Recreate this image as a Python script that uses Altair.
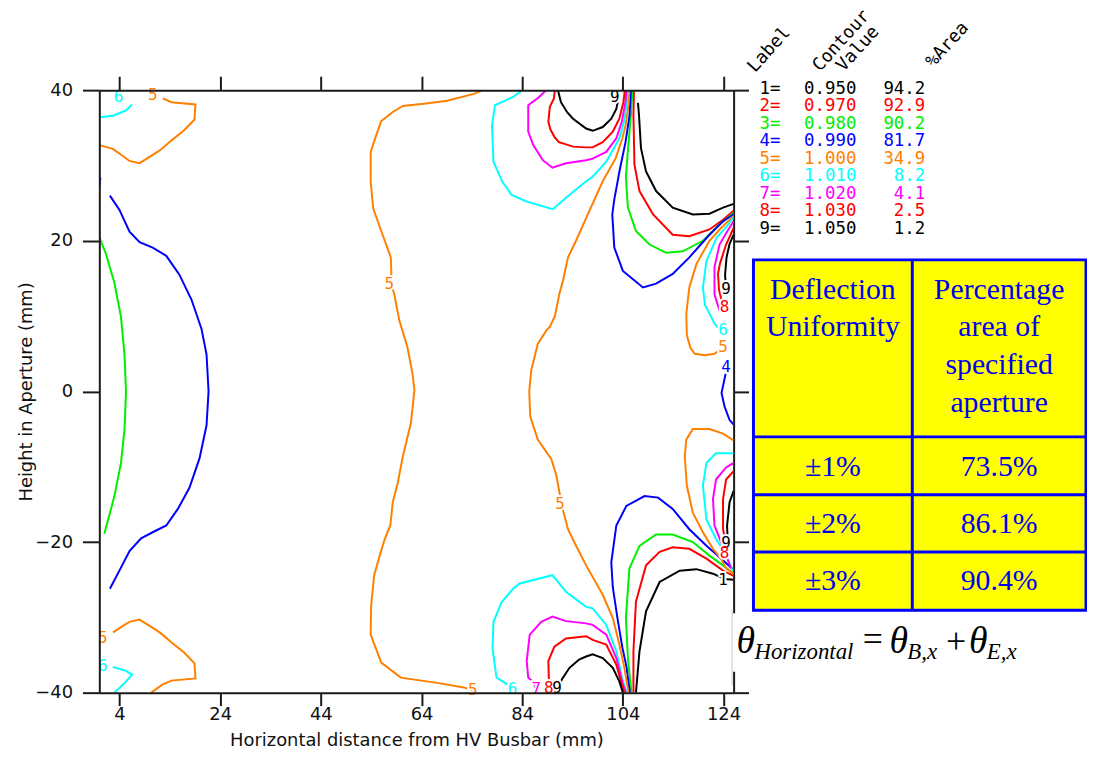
import altair as alt
import pandas as pd

# ---------------- axes ----------------
X_DOMAIN = [0, 126]
Y_DOMAIN = [-40, 40]
X_TICKS = [4, 24, 44, 64, 84, 104, 124]
Y_TICKS = [-40, -20, 0, 20, 40]
X_TITLE = "Horizontal distance from HV Busbar (mm)"
Y_TITLE = "Height in Aperture (mm)"

# ---------------- contour levels ----------------
LEVEL_IDS = [1, 2, 3, 4, 5, 6, 7, 8, 9]
LEVEL_VALUES = ["0.950", "0.970", "0.980", "0.990", "1.000", "1.010", "1.020", "1.030", "1.050"]
LEVEL_AREA = ["94.2", "92.9", "90.2", "81.7", "34.9", "8.2", "4.1", "2.5", "1.2"]
LEVEL_COLORS = ["#000000", "#ff0000", "#00ee00", "#0000ff", "#ff8000",
                "#00ffff", "#ff00ff", "#ff0000", "#000000"]

# ---------------- contour lines (x mm, y mm) ----------------
L1_UPPER = [(107.0, 38.3), (107.2, 36.7), (107.6, 32.3), (108.6, 29.2), (110.6, 26.6), (113.9, 24.4),
            (117.9, 23.5), (121.2, 23.6), (123.9, 24.4), (126.0, 24.9)]
L1_LOWER = [(106.6, -40.0), (107.3, -34.5), (108.6, -29.2), (111.3, -25.3), (115.3, -23.8),
            (118.6, -23.6), (121.9, -24.2), (124.2, -24.9), (126.0, -25.0)]

L2_UPPER = [(106.2, 40.0), (106.1, 36.7), (106.3, 30.1), (107.3, 26.6), (110.0, 23.5), (113.9, 20.8),
            (117.2, 20.6), (121.2, 21.5), (123.9, 22.8), (126.0, 24.0)]
L2_LOWER = [(106.1, -40.0), (106.1, -34.5), (106.6, -27.9), (108.6, -23.1), (111.3, -21.3),
            (113.9, -20.7), (117.2, -20.9), (120.6, -22.2), (123.9, -23.8), (126.0, -24.5)]

L3_UPPER = [(105.9, 40.0), (105.6, 36.7), (105.0, 32.0), (104.6, 28.5), (105.0, 24.4), (106.6, 21.3),
            (109.3, 19.5), (112.6, 18.4), (115.9, 18.6), (119.9, 20.0), (123.2, 22.2), (126.0, 23.7)]
L3_LOWER = [(105.7, -40.0), (105.0, -35.4), (104.6, -30.1), (105.3, -23.5), (107.3, -20.5),
            (110.6, -19.0), (113.9, -19.0), (117.9, -20.0), (121.2, -21.8), (123.9, -23.1), (126.0, -24.2)]
L3_LEFT = [(0.0, 20.5), (1.3, 18.3), (3.0, 14.4), (4.3, 9.9), (5.0, 4.9), (5.3, 0.0),
           (5.0, -5.1), (4.3, -9.5), (3.0, -13.9), (1.0, -18.9)]

L4_UPPER = [(105.6, 40.0), (105.3, 36.5), (104.5, 33.0), (103.4, 29.5), (102.3, 25.5), (101.9, 23.5),
            (102.3, 19.1), (104.0, 16.0), (108.0, 13.8), (110.6, 14.3), (113.9, 15.6), (117.2, 17.8),
            (121.2, 20.8), (123.9, 22.6), (126.0, 23.5)]
L4_LOWER = [(105.4, -40.0), (104.7, -36.5), (103.9, -34.0), (102.9, -30.0), (102.0, -26.0),
            (101.7, -22.7), (102.7, -17.8), (104.7, -15.2), (108.3, -13.9), (111.0, -14.1),
            (113.9, -15.6), (117.2, -18.3), (120.6, -20.5), (123.5, -22.2), (126.0, -23.7)]
L4_RIGHT = [(124.5, 2.6), (123.6, -0.2), (124.2, -2.0), (125.2, -3.8), (126.0, -4.4)]
L4_LEFT = [(2.1, 26.0), (4.0, 24.1), (6.0, 21.2), (8.0, 19.8), (10.6, 19.1), (13.3, 18.0),
           (15.9, 15.5), (18.3, 12.2), (20.3, 8.3), (21.3, 4.9), (21.7, 0.0), (21.3, -4.5),
           (19.9, -8.9), (17.9, -12.8), (15.6, -15.6), (13.3, -17.8), (10.6, -18.7), (8.3, -19.5),
           (6.0, -21.2), (4.3, -23.4), (2.1, -26.2)]
L4_DOT = [(0.0, 27.2), (0.2, 28.4)]

L5_TOP_LEFT = [(12.6, 38.9), (14.3, 38.4), (19.1, 38.1), (18.9, 36.1), (16.9, 34.7), (14.3, 33.3),
               (12.0, 32.0), (8.0, 30.3), (6.0, 30.6), (5.0, 31.1), (2.7, 32.2), (0.0, 32.7)]
L5_BOT_LEFT = [(2.7, -32.0), (5.0, -31.0), (6.0, -30.6), (8.0, -30.3), (12.0, -32.0), (14.3, -33.3),
               (16.9, -34.7), (18.9, -36.1), (19.1, -38.1), (14.3, -38.4), (12.6, -38.9), (10.3, -40.0)]
L5_CENTER = [(76.2, 40.0), (74.4, 39.5), (69.1, 38.6), (64.5, 38.2), (60.3, 37.9), (58.3, 37.1),
             (56.0, 35.9), (55.0, 34.0), (53.9, 31.8), (53.9, 27.9), (54.4, 24.3), (56.0, 21.3),
             (57.9, 17.8), (58.0, 16.0), (58.0, 14.2), (58.6, 12.9), (59.6, 9.4), (61.2, 5.9),
             (62.2, 2.4), (62.6, 0.2), (61.9, -4.2), (60.3, -8.6), (59.3, -12.1), (58.3, -14.7),
             (57.8, -17.8), (56.7, -19.6), (55.7, -21.8), (54.6, -24.4), (54.0, -28.4), (53.9, -32.3),
             (56.0, -36.0), (59.9, -38.0), (67.1, -38.7), (72.4, -39.3), (74.2, -39.7)]
L5_RIGHT = [(105.3, 40.0), (105.1, 38.0), (104.6, 35.5), (103.9, 33.6), (102.6, 31.0), (100.0, 27.9),
            (96.7, 23.0), (94.7, 20.0), (93.1, 17.8), (92.1, 14.7), (91.4, 13.0), (90.5, 10.0),
            (89.5, 8.6), (88.8, 8.1), (87.1, 6.3), (85.8, 2.8), (85.4, 0.0), (85.6, -3.3),
            (87.1, -6.4), (89.8, -9.0), (90.8, -11.2), (91.4, -13.4), (92.0, -15.5), (93.1, -18.3),
            (94.7, -20.5), (96.7, -23.1), (100.0, -27.0), (102.0, -30.1), (103.3, -33.6),
            (104.3, -36.7), (105.1, -40.0)]
L5_RIGHT_UP = [(126.0, 23.3), (123.5, 21.7), (121.2, 20.0), (118.6, 16.9), (117.2, 13.8), (116.6, 10.3),
               (116.7, 7.5), (117.4, 5.8), (118.3, 5.0), (120.3, 4.8), (122.2, 5.0), (123.2, 5.5)]
L5_RIGHT_LOW = [(126.0, -6.5), (123.9, -5.6), (121.2, -5.0), (117.9, -5.0), (116.6, -6.4),
                (116.3, -8.6), (116.7, -12.5), (117.9, -16.1), (119.9, -18.7), (121.9, -20.9),
                (123.5, -22.2), (124.5, -23.5), (126.0, -24.2)]

L6_TOP_LEFT = [(0.0, 36.4), (2.7, 36.6), (5.3, 37.3), (6.5, 38.1)]
L6_BOT_LEFT = [(2.7, -36.6), (5.3, -37.1), (6.5, -37.6), (5.2, -38.6), (3.8, -39.5), (3.0, -40.0)]
L6_TOP = [(84.0, 40.0), (82.2, 39.1), (78.6, 38.0), (78.0, 35.3), (78.3, 30.5), (80.0, 27.9),
          (81.9, 26.1), (84.9, 25.2), (90.1, 24.2), (92.7, 25.7), (96.7, 27.9), (98.0, 28.5),
          (100.7, 30.5), (103.3, 33.6), (104.3, 36.0), (104.8, 38.5), (104.95, 40.0)]
L6_BOTTOM = [(81.3, -39.0), (78.9, -38.0), (78.1, -34.1), (78.3, -30.6), (79.9, -28.0), (82.2, -26.2),
             (83.5, -25.5), (90.0, -24.4), (92.7, -26.6), (96.7, -28.6), (98.0, -28.8), (100.7, -31.0),
             (102.7, -34.5), (104.0, -38.5), (104.8, -40.0)]
L6_RIGHT_UP = [(126.0, 23.1), (124.5, 21.8), (122.6, 20.4), (120.6, 17.3), (119.9, 13.8), (120.3, 11.5),
               (121.3, 10.2), (122.2, 9.0), (123.0, 8.4)]
L6_RIGHT_LOW = [(126.0, -8.2), (122.5, -8.2), (120.6, -9.5), (119.9, -12.5), (120.6, -17.0),
                (122.5, -19.6), (124.2, -21.3), (125.2, -22.8), (125.8, -23.8)]

L7_TOP = [(88.8, 40.0), (87.2, 39.0), (85.2, 38.0), (85.2, 34.5), (86.2, 32.7), (88.1, 30.7),
          (90.0, 29.7), (92.7, 30.3), (96.7, 30.7), (98.0, 30.9), (100.7, 31.8), (102.7, 33.6),
          (103.8, 35.8), (104.5, 38.4), (104.7, 40.0)]
L7_BOTTOM = [(87.0, -40.0), (86.2, -38.6), (85.2, -38.0), (84.9, -35.8), (85.5, -32.3), (87.8, -30.6),
             (90.0, -29.9), (92.7, -30.5), (96.7, -30.8), (98.0, -31.0), (100.7, -32.3), (102.7, -35.4),
             (104.0, -38.9), (104.6, -40.0)]
L7_RIGHT_UP = [(126.0, 22.6), (124.5, 21.0), (123.2, 19.5), (122.2, 16.5), (122.2, 12.9), (123.2, 10.7)]
L7_RIGHT_LOW = [(126.0, -9.5), (124.5, -10.1), (122.5, -11.7), (121.9, -14.3), (122.2, -17.8),
                (123.5, -20.0), (124.5, -21.8), (125.5, -23.5)]

L8_TOP = [(90.5, 40.0), (90.3, 38.9), (89.5, 37.8), (89.2, 35.8), (89.6, 34.8), (90.4, 33.8),
          (91.3, 33.1), (92.7, 32.8), (94.1, 32.5), (96.7, 32.4), (98.0, 32.4), (100.0, 33.1),
          (102.0, 34.5), (103.3, 36.2), (104.1, 38.4), (104.4, 40.0)]
L8_BOTTOM = [(89.3, -39.0), (89.3, -38.2), (89.2, -35.8), (90.4, -33.9), (92.7, -32.8), (96.7, -32.5),
             (98.0, -33.0), (100.7, -33.6), (102.7, -36.3), (103.8, -38.9), (104.3, -40.0)]
L8_RIGHT_UP = [(126.0, 21.7), (124.5, 19.5), (123.3, 17.0), (122.9, 15.6), (123.1, 13.5), (123.6, 12.1)]
L8_RIGHT_LOW = [(126.0, -10.6), (124.5, -11.7), (123.9, -14.3), (123.9, -18.3), (124.5, -20.5)]

L9_TOP = [(91.1, 40.0), (91.7, 38.4), (93.0, 37.0), (94.1, 36.2), (96.7, 34.9), (98.0, 34.6),
          (100.0, 35.1), (101.7, 36.2), (102.7, 37.5), (103.0, 38.5)]
L9_BOTTOM = [(91.6, -38.7), (91.9, -38.2), (93.4, -36.7), (95.3, -35.6), (96.7, -35.2), (98.0, -34.9),
             (100.0, -35.4), (102.0, -36.7), (103.3, -38.5), (104.0, -40.0)]
L9_RIGHT_UP = [(126.0, 20.8), (125.2, 19.6), (124.6, 17.8), (124.3, 15.5), (124.4, 14.5)]
L9_RIGHT_LOW = [(126.0, -13.2), (125.2, -14.7), (124.7, -17.8), (124.8, -19.5)]

SEGMENTS = [
    (1, L1_UPPER), (1, L1_LOWER),
    (2, L2_UPPER), (2, L2_LOWER),
    (3, L3_UPPER), (3, L3_LOWER), (3, L3_LEFT),
    (4, L4_UPPER), (4, L4_LOWER), (4, L4_RIGHT), (4, L4_LEFT), (4, L4_DOT),
    (5, L5_TOP_LEFT), (5, L5_BOT_LEFT), (5, L5_CENTER), (5, L5_RIGHT), (5, L5_RIGHT_UP), (5, L5_RIGHT_LOW),
    (6, L6_TOP_LEFT), (6, L6_BOT_LEFT), (6, L6_TOP), (6, L6_BOTTOM), (6, L6_RIGHT_UP), (6, L6_RIGHT_LOW),
    (7, L7_TOP), (7, L7_BOTTOM), (7, L7_RIGHT_UP), (7, L7_RIGHT_LOW),
    (8, L8_TOP), (8, L8_BOTTOM), (8, L8_RIGHT_UP), (8, L8_RIGHT_LOW),
    (9, L9_TOP), (9, L9_BOTTOM), (9, L9_RIGHT_UP), (9, L9_RIGHT_LOW),
]

# contour labels: (level, x, y)
CONTOUR_LABELS = [
    (5, 10.6, 39.4), (6, 3.8, 39.1), (5, 0.7, -32.7), (6, 0.7, -36.5),
    (5, 57.6, 14.2), (5, 74.2, -39.6), (5, 91.5, -15.0),
    (6, 82.1, -39.5), (7, 86.8, -39.5), (8, 89.3, -39.4), (9, 90.9, -39.4),
    (9, 102.4, 39.1),
    (9, 124.5, 13.6), (8, 124.2, 11.2), (6, 123.9, 8.1), (5, 123.9, 5.9), (4, 124.5, 3.3),
    (9, 124.5, -20.1), (8, 124.2, -21.5), (1, 123.9, -25.1),
]

# ---------------- side table ----------------
TABLE_HEAD_LEFT = ["Deflection", "Uniformity"]
TABLE_HEAD_RIGHT = ["Percentage", "area of", "specified", "aperture"]
TABLE_UNIFORMITY = ["\u00b11%", "\u00b12%", "\u00b13%"]
TABLE_AREA = ["73.5%", "86.1%", "90.4%"]

LEGEND_HEADERS = ["Label", "Contour", "Value", "%Area"]

FORMULA_ITALIC = ["\u03b8", "Horizontal", "\u03b8", "B,x", "\u03b8", "E,x"]
FORMULA_UPRIGHT = ["=", "+"]

# ================= build =================
W, H = 639, 607
color_of = dict(zip(LEVEL_IDS, LEVEL_COLORS))

rows = []
for sid, (lvl, pts) in enumerate(SEGMENTS):
    for i, (x, y) in enumerate(pts):
        rows.append({"seg": sid, "i": i, "x": min(max(x, 0.0), 126.0), "y": y, "c": color_of[lvl]})
lines_df = pd.DataFrame(rows)

lab_df = pd.DataFrame([{"t": str(l), "x": x, "y": y, "c": color_of[l]} for l, x, y in CONTOUR_LABELS])

xs = alt.Scale(domain=X_DOMAIN, nice=False, zero=False)
ys = alt.Scale(domain=Y_DOMAIN, nice=False, zero=False)

AXF = "DejaVu Sans"
common = dict(grid=False, domainColor="#1a1a1a", domainWidth=2, tickColor="#1a1a1a", tickWidth=2,
              labelColor="#111111", labelFont=AXF, labelFontSize=18, titleFont=AXF, titleFontSize=18,
              titleFontWeight="normal", titleColor="#111111")

ax_bottom = alt.Axis(orient="bottom", values=X_TICKS, tickSize=13, labelPadding=0, title=X_TITLE,
                     titleY=53, titleBaseline="alphabetic", labelFlush=False, labelOverlap=False,
                     zindex=1, **common)
ax_left = alt.Axis(orient="left", values=Y_TICKS, tickSize=17, labelPadding=10, title=Y_TITLE,
                   titleX=-73, titleY=H / 2, titleAngle=270, titleAlign="center", titleBaseline="middle",
                   labelFlush=False, labelOverlap=False, zindex=1, **common)
ax_top = alt.Axis(orient="top", values=X_TICKS, tickSize=14, labels=False, title=None, zindex=1, **common)
ax_right = alt.Axis(orient="right", values=Y_TICKS, tickSize=15, labels=False, title=None, zindex=0, **common)

lines = alt.Chart(lines_df).mark_line(strokeWidth=2, clip=True).encode(
    x=alt.X("x:Q", scale=xs, axis=ax_bottom),
    y=alt.Y("y:Q", scale=ys, axis=ax_left),
    color=alt.Color("c:N", scale=None),
    detail="seg:N",
    order="i:Q",
)

frame_df = pd.DataFrame({"x": X_DOMAIN, "y": Y_DOMAIN})
frame = alt.Chart(frame_df).mark_point(opacity=0).encode(
    x=alt.X("x:Q", scale=xs, axis=ax_top),
    y=alt.Y("y:Q", scale=ys, axis=ax_right),
)

halo = alt.Chart(lab_df).mark_text(font="DejaVu Sans Mono", fontSize=16, color="white", stroke="white",
                                   strokeWidth=4, baseline="middle", align="center").encode(
    x=alt.X("x:Q", scale=xs, axis=None), y=alt.Y("y:Q", scale=ys, axis=None), text="t:N")
labels = alt.Chart(lab_df).mark_text(font="DejaVu Sans Mono", fontSize=16, baseline="middle",
                                     align="center").encode(
    x=alt.X("x:Q", scale=xs, axis=None), y=alt.Y("y:Q", scale=ys, axis=None), text="t:N",
    color=alt.Color("c:N", scale=None))


def px(field="px"):
    return alt.X(f"{field}:Q", scale=None, axis=None)


def py(field="py"):
    return alt.Y(f"{field}:Q", scale=None, axis=None)


# ---- legend listing (pixel layout relative to plot origin) ----
leg_rows = []
for k in range(len(LEVEL_IDS)):
    yy = -1.5 + 17.65 * k
    c = LEVEL_COLORS[k]
    leg_rows.append({"t": f"{LEVEL_IDS[k]}=", "px": 665, "py": yy, "c": c, "a": "left"})
    leg_rows.append({"t": LEVEL_VALUES[k], "px": 710, "py": yy, "c": c, "a": "left"})
    leg_rows.append({"t": LEVEL_AREA[k], "px": 832, "py": yy, "c": c, "a": "right"})
leg_df = pd.DataFrame(leg_rows)
leg_left = alt.Chart(leg_df[leg_df.a == "left"]).mark_text(
    font="DejaVu Sans Mono", fontSize=17.5, align="left", baseline="middle").encode(
    x=px(), y=py(), text="t:N", color=alt.Color("c:N", scale=None))
leg_right = alt.Chart(leg_df[leg_df.a == "right"]).mark_text(
    font="DejaVu Sans Mono", fontSize=17.5, align="right", baseline="middle").encode(
    x=px(), y=py(), text="t:N", color=alt.Color("c:N", scale=None))

head_df = pd.DataFrame({"t": LEGEND_HEADERS, "px": [660.5, 726, 750, 840], "py": [-17, -18, -18, -22]})
leg_head = alt.Chart(head_df).mark_text(font="DejaVu Sans Mono", fontSize=18, align="left",
                                        baseline="alphabetic", angle=312, color="black").encode(
    x=px(), y=py(), text="t:N")

# ---- yellow table ----
TL, TR, TT, TB, TM = 659, 994, 171, 524, 819
ROW_LINES = [349.3, 407.7, 465.3]
box_df = pd.DataFrame({"px": [TL], "px2": [TR], "py": [TT], "py2": [TB]})
box = alt.Chart(box_df).mark_rect(fill="#ffff00", stroke="#0000ff", strokeWidth=3).encode(
    x=px(), x2="px2:Q", y=py(), y2="py2:Q")
rule_df = pd.DataFrame({"px": [TM] + [TL] * 3, "px2": [TM] + [TR] * 3,
                        "py": [TT] + ROW_LINES, "py2": [TB] + ROW_LINES})
rules = alt.Chart(rule_df).mark_rule(color="#0000ff", strokeWidth=3).encode(
    x=px(), x2="px2:Q", y=py(), y2="py2:Q")

c1, c2 = (TL + TM) / 2, (TM + TR) / 2
tt = []
for k, s in enumerate(TABLE_HEAD_LEFT):
    tt.append({"t": s, "px": c1, "py": 210 + 38 * k})
for k, s in enumerate(TABLE_HEAD_RIGHT):
    tt.append({"t": s, "px": c2, "py": 210 + 38 * k})
for k in range(3):
    tt.append({"t": TABLE_UNIFORMITY[k], "px": c1, "py": [389, 446, 504][k]})
    tt.append({"t": TABLE_AREA[k], "px": c2, "py": [389, 446, 504][k]})
table_text = alt.Chart(pd.DataFrame(tt)).mark_text(
    font="Liberation Serif", fontSize=30, color="#0000ee", align="center", baseline="alphabetic").encode(
    x=px(), y=py(), text="t:N")

# ---- formula box ----
fbox = alt.Chart(pd.DataFrame({"px": [637.5], "px2": [946], "py": [527], "py2": [586]})).mark_rect(
    fill="white").encode(x=px(), x2="px2:Q", y=py(), y2="py2:Q")
fline = alt.Chart(pd.DataFrame({"px": [637.5], "py": [524], "py2": [600]})).mark_rule(
    color="#c8c8c8", strokeWidth=1).encode(x=px(), y=py(), y2="py2:Q")
f_it = pd.DataFrame({"t": FORMULA_ITALIC,
                     "px": [642, 660, 796, 814, 876, 894],
                     "py": [567, 573, 567, 573, 567, 573],
                     "s": [38, 23, 38, 23, 38, 23]})
ftext = alt.Chart(f_it).mark_text(font="Liberation Serif", fontStyle="italic", color="black",
                                  align="left", baseline="alphabetic").encode(
    x=px(), y=py(), text="t:N", size=alt.Size("s:Q", scale=None))
f_up = pd.DataFrame({"t": FORMULA_UPRIGHT, "px": [769, 853], "py": [565, 567]})
ftext2 = alt.Chart(f_up).mark_text(font="Liberation Serif", fontSize=36, color="black",
                                   align="left", baseline="alphabetic").encode(
    x=px(), y=py(), text="t:N")

chart = alt.layer(
    lines, frame, halo, labels, leg_left, leg_right, leg_head, box, rules, table_text,
    fbox, fline, ftext, ftext2,
).resolve_axis(x="independent", y="independent").properties(
    width=W, height=H,
    padding={"left": 92, "top": 80, "right": 356, "bottom": 55},
    autosize=alt.AutoSizeParams(type="none"),
    background="white",
).configure_view(stroke=None)

chart.save("out.html", embed_options={"renderer": "svg", "actions": False})
